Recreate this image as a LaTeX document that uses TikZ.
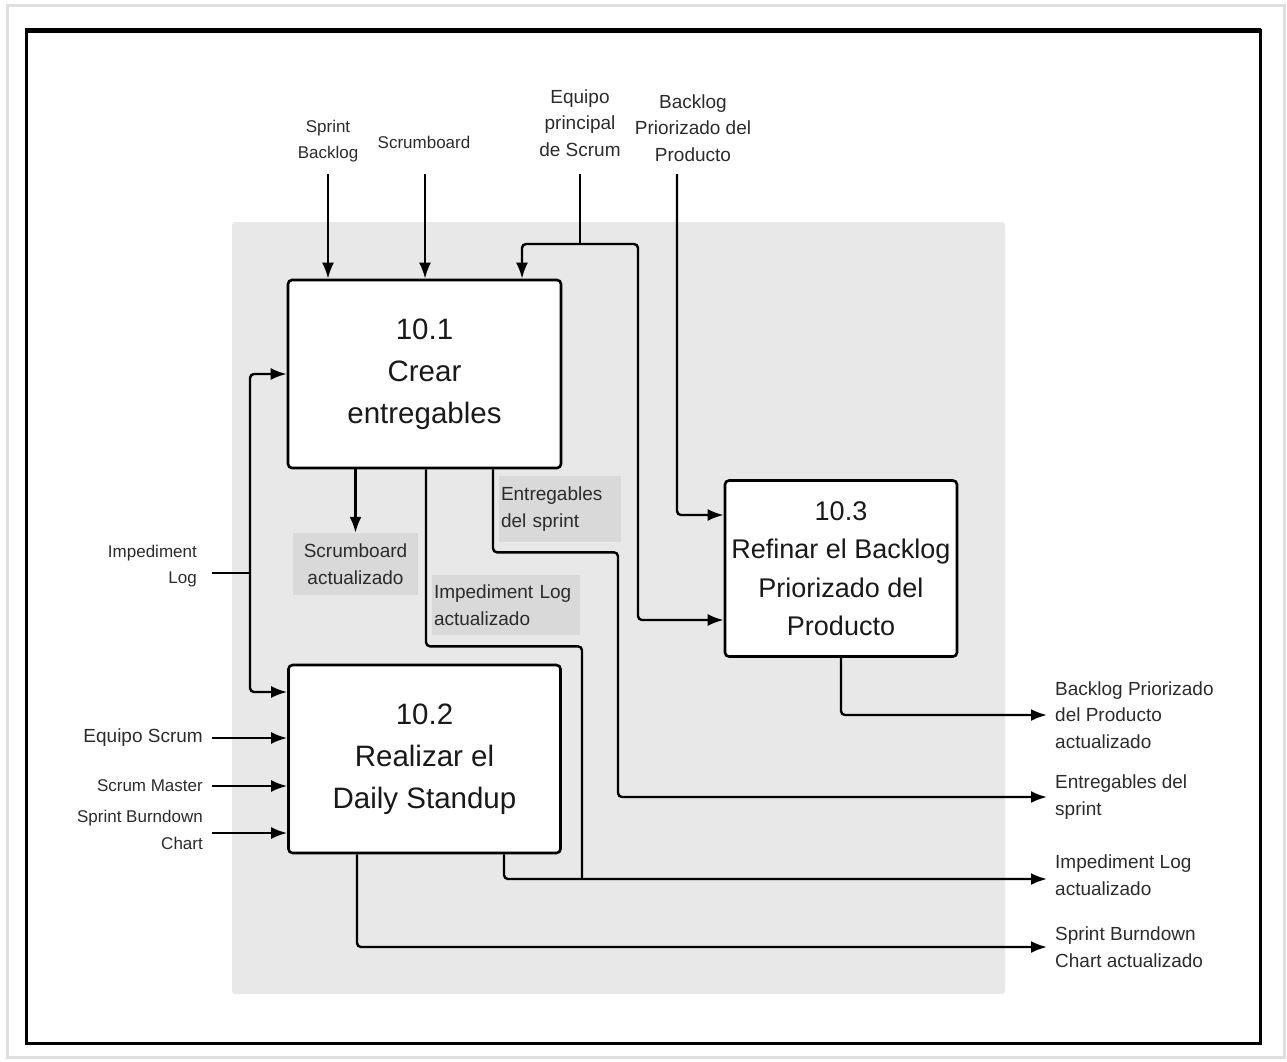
\documentclass[tikz,border=0pt]{standalone}
\usepackage{fontspec}
\setmainfont{Liberation Sans}
\usetikzlibrary{arrows.meta,positioning}
\definecolor{bggray}{HTML}{E8E8E8}
\definecolor{lblgray}{HTML}{D9D9D9}
\definecolor{txt}{HTML}{2B2B2B}
\tikzstyle{proc} = [rectangle, draw, line width=2.6pt, rounded corners=4pt, fill=white, align=center, text=black!90, font=\fontsize{29.5}{42}\selectfont]
\tikzstyle{l1} = [inner sep=0pt, align=center, text=txt, font=\fontsize{17}{26.5}\selectfont]
\tikzstyle{l2} = [inner sep=0pt, align=center, text=txt, font=\fontsize{19}{26.5}\selectfont]
\tikzstyle{lr} = [l2, anchor=west, align=left]
\tikzstyle{ll} = [l1, anchor=east, align=right]
\tikzstyle{tag} = [rectangle, fill=lblgray, inner sep=0pt, align=left, text=txt, font=\fontsize{19}{27}\selectfont]
\tikzstyle{flow} = [line width=2.4pt, rounded corners=4pt]
\tikzstyle{into} = [flow, -{Latex[length=16pt,width=12pt]}]

\begin{document}
\begin{tikzpicture}[x=1pt, y=-1pt]
\useasboundingbox (0,0) rectangle (1287,1061);
% marco
\draw[gray!25, line width=3pt] (7,5) rectangle (1284,1057);
\draw[line width=3pt] (26,30) rectangle (1260,1043);
\draw[line width=5pt] (25,30) -- (1261,30);
\fill[bggray, rounded corners=3pt] (232,222) rectangle (1005,994);

% procesos
\node(A)[proc, minimum width=273pt, minimum height=188pt] at (424.5,374) {10.1\\Crear\\entregables};
\node(B)[proc, minimum width=272pt, minimum height=188pt] at (424.5,759) {10.2\\Realizar el\\Daily Standup};
\node(C)[proc, minimum width=232pt, minimum height=176pt, font=\fontsize{27}{38.5}\selectfont] at (841,568.5) {10.3\\Refinar el Backlog\\Priorizado del\\Producto};

% entradas
\node(sb)[l1] at (328,141) {Sprint\\Backlog};
\node(sc)[l1] at (424,142) {Scrumboard};
\node(ep)[l2] at (580,123) {Equipo\\principal\\de Scrum};
\node(bp)[l2] at (693,128) {Backlog\\Priorizado del\\Producto};
\node(il)[ll] at (197,566) {Impediment\\Log};
\node(es)[l2, anchor=east] at (203,738) {Equipo Scrum};
\node(sm)[ll] at (203,786) {Scrum Master};
\node(sbc)[ll] at (203,830) {Sprint Burndown\\Chart};

% salidas
\node(o1)[lr] at (1055,715) {Backlog Priorizado\\del Producto\\actualizado};
\node(o2)[lr] at (1055,797) {Entregables del\\sprint};
\node(o3)[lr] at (1055,875) {Impediment Log\\actualizado};
\node(o4)[lr] at (1055,947) {Sprint Burndown\\Chart actualizado};

% etiquetas internas
\node(t1)[tag, align=center, minimum width=125pt, text width=125pt, minimum height=62pt] at (355.5,564) {Scrumboard\\actualizado};
\node(t2)[tag, minimum width=122pt, text width=118pt, minimum height=66pt] at (560,509) {Entregables\\del sprint};
\node(t3)[tag, minimum width=148pt, text width=144pt, minimum height=60pt] at (506,605) {Impediment Log\\actualizado};

% puntos de paso
\coordinate (sbx) at (328,174);
\coordinate (scx) at (425,174);
\coordinate (epx) at (580,174);
\coordinate (epj) at (580,244);
\coordinate (k1) at (638,620);
\coordinate (bpx) at (677,174);
\coordinate (k2) at (677,515);
\coordinate (ilx) at (212,573);
\coordinate (ilj) at (250,573);
\coordinate (k4) at (618,797);
\coordinate (j1) at (582,879);

% flechas de entrada
\draw[into] (sbx) -- (sbx |- A.north);
\draw[into] (scx) -- (scx |- A.north);
\draw[flow] (epx) -- (epj);
\draw[into] (epj) -| ([xshift=97.5pt]A.north);
\draw[into] (epj) -| (k1) -- (k1 -| C.west);
\draw[into] (bpx) -- (k2) -- (k2 -| C.west);
\draw[flow] (ilx) -- (ilj);
\draw[into] (ilj) |- (A.west);
\draw[into] (ilj) |- ([yshift=67pt]B.west);
\draw[into, shorten <=9pt] (es.east) -- (es.east -| B.west);
\draw[into, shorten <=9pt] (sm.east) -- (sm.east -| B.west);
\draw[into, shorten <=9pt] ([yshift=-3pt]sbc.east) -- ([yshift=-3pt]sbc.east -| B.west);

% flechas de salida
\draw[into] (A.south -| t1.north) -- (t1.north);
\draw[flow] ([xshift=1.5pt]A.south) -- ++(0,177) -| (j1);
\draw[into, shorten >=8pt] ([xshift=68.5pt]A.south) -- ++(0,83) -| (k4) -- (o2.west);
\draw[into, shorten >=8pt] ([xshift=79.5pt]B.south) |- (j1) -- (j1 -| o3.west);
\draw[into, shorten >=8pt] ([xshift=-67.5pt]B.south) |- (o4.west);
\draw[into, shorten >=8pt] (C.south) |- (o1.west);
\end{tikzpicture}
\end{document}
